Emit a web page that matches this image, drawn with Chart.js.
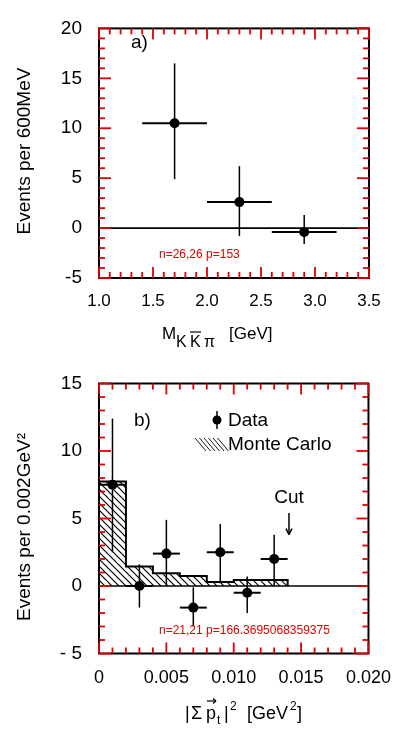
<!DOCTYPE html>
<html>
<head>
<meta charset="utf-8">
<script src="https://cdn.jsdelivr.net/npm/chart.js@4.4.1/dist/chart.umd.min.js"></script>
<style>
  html, body { margin: 0; padding: 0; background: #fff; }
  body { width: 405px; height: 732px; position: relative; overflow: hidden; }
  canvas { position: absolute; left: 0; }
  #massChart { top: 0; }
  #ptChart { top: 355px; }
</style>
</head>
<body>
<canvas id="massChart" width="405" height="355"></canvas>
<canvas id="ptChart" width="405" height="377"></canvas>
<script>
// ---- panel a) : K Kbar pi mass ----
const massCenters = [1.7, 2.3, 2.9];
const massBinLo = [1.4, 2.0, 2.6];
const massBinHi = [2.0, 2.6, 3.2];
const massEvents = [10.5, 2.6, -0.4];
const massErrLo = [4.9, -0.8, -1.6];
const massErrHi = [16.5, 6.2, 1.3];
const massTicks = [1.0, 1.5, 2.0, 2.5, 3.0, 3.5];
const eventTicksA = [-5, 0, 5, 10, 15, 20];

// ---- panel b) : |sum pt|^2 ----
const ptCenters = [0.001, 0.003, 0.005, 0.007, 0.009, 0.011, 0.013];
const ptBinLo = [0.000, 0.002, 0.004, 0.006, 0.008, 0.010, 0.012];
const ptBinHi = [0.002, 0.004, 0.006, 0.008, 0.010, 0.012, 0.014];
const ptEvents = [7.5, 0, 2.4, -1.6, 2.5, -0.5, 2.0];
const ptErrLo = [2.5, -1.6, 0, -3.0, 0.2, -2.0, 0];
const ptErrHi = [12.4, 1.6, 4.9, -0.1, 4.6, 0.7, 3.8];
const mcEdges = [0, 0.002, 0.004, 0.006, 0.008, 0.010, 0.012, 0.014];
const mcCounts = [7.75, 1.45, 0.95, 0.75, 0.3, 0.45, 0.45];
const ptTicks = [0, 0.005, 0.010, 0.015, 0.020];
const eventTicksB = [-5, 0, 5, 10, 15];
const cutValue = 0.0141;

const FONT = "'Liberation Sans', Arial, sans-serif";

function seg(ctx, x1, y1, x2, y2) {
  ctx.beginPath();
  ctx.moveTo(x1, y1);
  ctx.lineTo(x2, y2);
  ctx.stroke();
}

// minor tick positions between lo and hi, every step; major every `every`
function tickList(lo, hi, step, every) {
  const out = [];
  const n = Math.round((hi - lo) / step);
  for (let i = 0; i <= n; i++) out.push({v: lo + i * step, major: i % every === 0});
  return out;
}

// error bars, zero line, frame and inward ticks
function boxPlugin(err, xt, yt) {
  return {
    id: 'box',
    afterDatasetsDraw(chart) {
      const ctx = chart.ctx;
      const a = chart.chartArea;
      const x = chart.scales.x, y = chart.scales.y;
      ctx.save();
      ctx.strokeStyle = '#000';
      ctx.fillStyle = '#000';
      for (let i = 0; i < err.c.length; i++) {
        const px = x.getPixelForValue(err.c[i]);
        const py = y.getPixelForValue(err.v[i]);
        ctx.lineWidth = 1.5;
        seg(ctx, px, y.getPixelForValue(err.lo[i]), px, y.getPixelForValue(err.hi[i]));
        ctx.lineWidth = 2;
        seg(ctx, x.getPixelForValue(err.bl[i]), py, x.getPixelForValue(err.bh[i]), py);
      }
      ctx.lineWidth = 1.6;
      const y0 = y.getPixelForValue(0);
      seg(ctx, a.left, y0, a.right, y0);
      ctx.lineWidth = 2;
      ctx.strokeRect(a.left, a.top, a.right - a.left, a.bottom - a.top);
      ctx.restore();
    },
    afterDraw(chart) {
      const ctx = chart.ctx;
      const a = chart.chartArea;
      const x = chart.scales.x, y = chart.scales.y;
      ctx.save();
      ctx.fillStyle = '#e00000';
      ctx.font = '12px sans-serif';
      ctx.fillText('n=' + xt.length + ',' + yt.length + ' p=' + x.getPixelForValue(xt[5].v), a.left + 60, a.bottom - 20);
      xt.forEach(t => {
        const px = x.getPixelForValue(t.v);
        const len = t.major ? 11 : 6;
        ctx.fillRect(px - 0.9, a.bottom - len, 1.8, len);
        ctx.fillRect(px - 0.9, a.top, 1.8, len);
      });
      yt.forEach(t => {
        const py = y.getPixelForValue(t.v);
        const len = t.major ? 12 : 6;
        ctx.fillRect(a.left, py - 0.9, len, 1.8);
        ctx.fillRect(a.right - len, py - 0.9, len, 1.8);
      });
      ctx.restore();
    }
  };
}

function yTitle(ctx, text, cx, cy) {
  ctx.save();
  ctx.translate(cx, cy);
  ctx.rotate(-Math.PI / 2);
  ctx.font = '19px ' + FONT;
  ctx.textAlign = 'center';
  ctx.textBaseline = 'middle';
  ctx.fillStyle = '#000';
  ctx.fillText(text, 0, 0);
  ctx.restore();
}

const massText = {
  id: 'massText',
  afterDraw(chart) {
    const ctx = chart.ctx;
    ctx.save();
    ctx.fillStyle = '#000';
    ctx.strokeStyle = '#000';
    ctx.textBaseline = 'middle';
    ctx.font = '19px ' + FONT;
    ctx.fillText('a)', 131, 43);
    yTitle(ctx, 'Events per 600MeV', 25, 151);

    // M_{K Kbar pi} [GeV]
    ctx.textBaseline = 'alphabetic';
    ctx.font = '17px ' + FONT;
    ctx.fillText('M', 162, 339);
    ctx.font = '16px ' + FONT;
    ctx.fillText('K', 176, 347);
    ctx.fillText('K', 190, 347);
    ctx.fillText('\u03c0', 204, 347);
    ctx.lineWidth = 1.2;
    seg(ctx, 190, 332, 201, 332);
    ctx.font = '17px ' + FONT;
    ctx.fillText('[GeV]', 229, 339);
    ctx.restore();
  }
};

const ptText = {
  id: 'ptText',
  afterDraw(chart) {
    const ctx = chart.ctx;
    const x = chart.scales.x, y = chart.scales.y;
    ctx.save();
    ctx.fillStyle = '#000';
    ctx.strokeStyle = '#000';
    ctx.textBaseline = 'middle';
    ctx.font = '19px ' + FONT;
    ctx.fillText('b)', 134, 66);
    yTitle(ctx, 'Events per 0.002GeV\u00b2', 25, 172);

    // legend
    ctx.lineWidth = 1.5;
    seg(ctx, 217, 56, 217, 74);
    ctx.beginPath();
    ctx.arc(217, 65, 4.5, 0, Math.PI * 2);
    ctx.fill();
    ctx.fillText('Data', 228, 66);
    ctx.lineWidth = 0.9;
    for (let k = 0; k < 6; k++) {
      seg(ctx, 195 + k * 4.5, 83, 206 + k * 4.5, 96);
    }
    ctx.fillText('Monte Carlo', 228, 90);

    // cut marker
    ctx.textAlign = 'center';
    ctx.fillText('Cut', 289, 143);
    const cx = x.getPixelForValue(cutValue);
    const top = y.getPixelForValue(5.4);
    const bot = y.getPixelForValue(3.8);
    ctx.lineWidth = 1.5;
    seg(ctx, cx, top, cx, bot);
    seg(ctx, cx - 3, bot - 6, cx, bot);
    seg(ctx, cx + 3, bot - 6, cx, bot);

    // |Σ p_t|^2 [GeV^2]
    ctx.textAlign = 'left';
    ctx.textBaseline = 'alphabetic';
    ctx.font = '18px ' + FONT;
    ctx.fillText('|', 185, 364);
    ctx.fillText('\u03a3', 191, 364);
    ctx.fillText('p', 206, 364);
    ctx.lineWidth = 1.2;
    seg(ctx, 207, 346, 216, 346);
    seg(ctx, 213, 343.5, 216, 346);
    seg(ctx, 213, 348.5, 216, 346);
    ctx.font = '12px ' + FONT;
    ctx.fillText('t', 217, 369);
    ctx.font = '18px ' + FONT;
    ctx.fillText('|', 224, 364);
    ctx.font = '12px ' + FONT;
    ctx.fillText('2', 230, 355);
    ctx.font = '18px ' + FONT;
    ctx.fillText('[GeV', 247, 364);
    ctx.font = '12px ' + FONT;
    ctx.fillText('2', 290, 355);
    ctx.font = '18px ' + FONT;
    ctx.fillText(']', 297, 364);
    ctx.restore();
  }
};

function fixedTicks(values) {
  return scale => { scale.ticks = values.map(v => ({value: v})); };
}

const noGrid = {display: false, drawTicks: false};

// ---- chart a ----
new Chart(document.getElementById('massChart'), {
  type: 'scatter',
  data: {
    datasets: [{
      data: massCenters.map((m, i) => ({x: m, y: massEvents[i]})),
      pointRadius: 5,
      pointBackgroundColor: '#000',
      pointBorderWidth: 0,
      showLine: false
    }]
  },
  options: {
    responsive: false,
    animation: false,
    layout: {padding: {top: 12, right: 36, left: 0, bottom: 0}},
    plugins: {legend: {display: false}, tooltip: {enabled: false}},
    scales: {
      x: {
        type: 'linear', min: 1.0, max: 3.5,
        grid: noGrid, border: {display: false},
        afterBuildTicks: fixedTicks(massTicks),
        afterFit: s => { s.height = 77; },
        ticks: {color: '#000', padding: 13, font: {family: FONT, size: 17},
                callback: v => v.toFixed(1)}
      },
      y: {
        min: -5, max: 20,
        grid: noGrid, border: {display: false},
        afterBuildTicks: fixedTicks(eventTicksA),
        afterFit: s => { s.width = 99; },
        ticks: {color: '#000', padding: 17, font: {family: FONT, size: 19}}
      }
    }
  },
  plugins: [boxPlugin({c: massCenters, v: massEvents, lo: massErrLo, hi: massErrHi,
                       bl: massBinLo, bh: massBinHi},
                      tickList(1.0, 3.5, 0.1, 5), tickList(-5, 20, 1, 5)),
            massText]
});

// ---- chart b ----
const ptCanvas = document.getElementById('ptChart');
const hatch = (() => {
  const c = document.createElement('canvas');
  c.width = 7; c.height = 7;
  const g = c.getContext('2d');
  g.strokeStyle = '#000';
  g.lineWidth = 1.2;
  g.beginPath();
  g.moveTo(-1, -1); g.lineTo(8, 8);
  g.moveTo(-1, 6); g.lineTo(1, 8);
  g.moveTo(6, -1); g.lineTo(8, 1);
  g.stroke();
  return ptCanvas.getContext('2d').createPattern(c, 'repeat');
})();

const mcPoints = mcCounts.map((c, i) => ({x: mcEdges[i], y: c}));
mcPoints.push({x: mcEdges[mcEdges.length - 1], y: 0});

new Chart(ptCanvas, {
  type: 'scatter',
  data: {
    datasets: [{
      type: 'line',
      data: mcPoints,
      stepped: 'before',
      fill: 'origin',
      backgroundColor: hatch,
      borderColor: '#000',
      borderWidth: 2,
      pointRadius: 0
    }, {
      data: ptCenters.map((p, i) => ({x: p, y: ptEvents[i]})),
      pointRadius: 5,
      pointBackgroundColor: '#000',
      pointBorderWidth: 0,
      showLine: false
    }]
  },
  options: {
    responsive: false,
    animation: false,
    layout: {padding: {top: 28.5, right: 36, left: 0, bottom: 0}},
    plugins: {legend: {display: false}, tooltip: {enabled: false}},
    scales: {
      x: {
        type: 'linear', min: 0, max: 0.02,
        grid: noGrid, border: {display: false},
        afterBuildTicks: fixedTicks(ptTicks),
        afterFit: s => { s.height = 78.5; },
        ticks: {color: '#000', padding: 14, font: {family: FONT, size: 18},
                callback: v => v === 0 ? '0' : v.toFixed(3)}
      },
      y: {
        min: -5, max: 15,
        grid: noGrid, border: {display: false},
        afterBuildTicks: fixedTicks(eventTicksB),
        afterFit: s => { s.width = 99; },
        ticks: {color: '#000', padding: 17, font: {family: FONT, size: 19},
                callback: v => v < 0 ? '- ' + Math.abs(v) : String(v)}
      }
    }
  },
  plugins: [boxPlugin({c: ptCenters, v: ptEvents, lo: ptErrLo, hi: ptErrHi,
                       bl: ptBinLo, bh: ptBinHi},
                      tickList(0, 0.02, 0.001, 5), tickList(-5, 15, 1, 5)),
            ptText]
});
</script>
</body>
</html>
